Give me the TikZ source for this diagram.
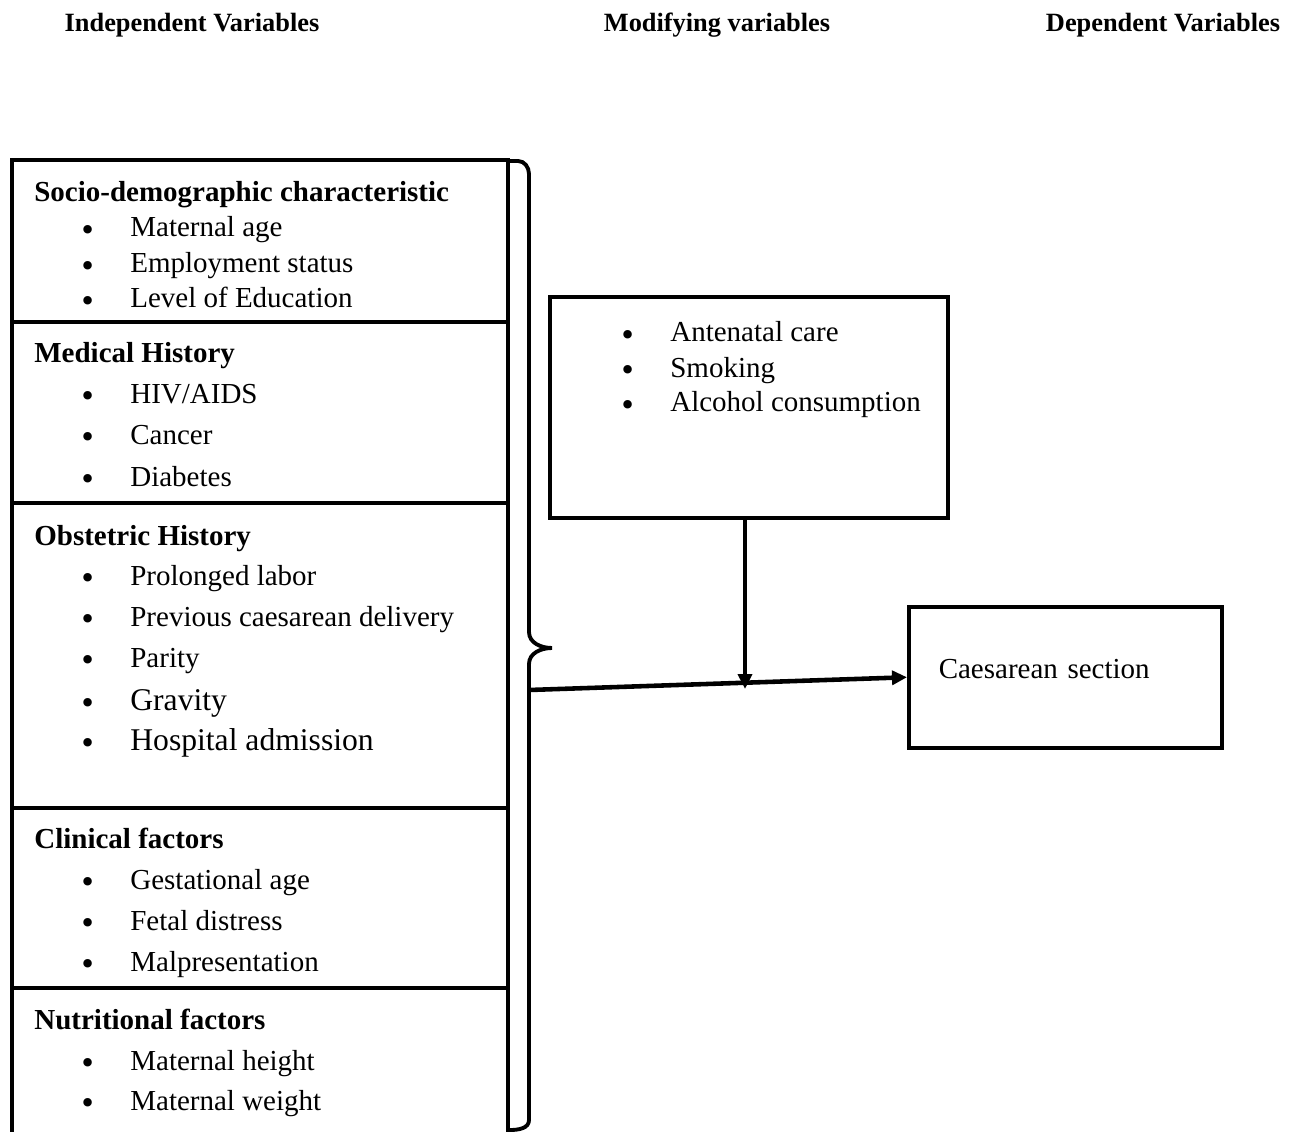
\documentclass[tikz,border=0pt]{standalone}
\usepackage{fontspec}
\setmainfont{Liberation Serif}
\newfontfamily\bulfont{DejaVu Sans}
\usetikzlibrary{arrows.meta,positioning}

% bullet hung 42px left of the item text
\newcommand{\bul}{\llap{\makebox[16.8mm]{\raisebox{-0.12em}{\bulfont\fontsize{16.5}{20}\selectfont •}}}}

\begin{document}
\begin{tikzpicture}[x=0.2mm,y=-0.2mm,
  hdr/.style={font=\fontsize{15}{18}\selectfont\bfseries,anchor=base,inner sep=0pt},
  ttl/.style={font=\fontsize{16.5}{20}\selectfont\bfseries,anchor=base west,inner sep=0pt},
  itm/.style={font=\fontsize{16.5}{20}\selectfont,anchor=base west,inner sep=0pt},
  big/.style={font=\fontsize{18}{22}\selectfont},
  secbox/.style={draw,line width=2pt,minimum width=99.2mm,inner sep=0pt,outer sep=0pt},
  arr/.style={line width=2.6pt,-{Triangle[length=3mm,width=2.8mm]}}]
\useasboundingbox (0,0) rectangle (1301,1132);

% headings
\node[hdr] (indep) at (192,32) {Independent Variables};
\node[hdr] (modif) at (717,32) {Modifying variables};
\node[hdr] (dep) at (1163,32) {Dependent Variables};

% independent variables
\node[secbox,minimum height=32.4mm,anchor=north west] (socio) at (12,160) {};
\node[secbox,minimum height=36.2mm,below=0pt of socio] (medic) {};
\node[secbox,minimum height=61mm,below=0pt of medic] (obst) {};
\node[secbox,minimum height=36mm,below=0pt of obst] (clin) {};
\node[secbox,minimum height=32mm,below=0pt of clin] (nutr) {};

\node[ttl] (socio-t) at (34,202) {Socio-demographic characteristic};
\foreach \y/\s [count=\i] in {237/Maternal age,273/Employment status,308/Level of Education}
  \node[itm] (socio-\i) at (130,\y) {\bul\s};

\node[ttl] (medic-t) at (34,363) {Medical History};
\foreach \y/\s [count=\i] in {403/{HIV/AIDS},444/Cancer,486/Diabetes}
  \node[itm] (medic-\i) at (130,\y) {\bul\s};

\node[ttl] (obst-t) at (34,545) {Obstetric History};
\foreach \y/\s/\f [count=\i] in {585/Prolonged labor/,626/Previous caesarean delivery/,
    667/Parity/,710/Gravity/big,750/Hospital admission/big}
  \node[itm,\f] (obst-\i) at (130,\y) {\bul\s};

\node[ttl] (clin-t) at (34,848) {Clinical factors};
\foreach \y/\s [count=\i] in {889/Gestational age,930/Fetal distress,971/Malpresentation}
  \node[itm] (clin-\i) at (130,\y) {\bul\s};

\node[ttl] (nutr-t) at (34,1029) {Nutritional factors};
\foreach \y/\s [count=\i] in {1070/Maternal height,1110/Maternal weight}
  \node[itm] (nutr-\i) at (130,\y) {\bul\s};

% brace
\draw[line width=2.2pt,line cap=round] (508,161) -- (518,161) to[out=0,in=90] (529,174)
  -- (529,632) to[out=-90,in=180] (552,648) to[out=180,in=90] (529,664)
  -- (529,1120) to[out=-90,in=0] (510,1130);
\coordinate (bmid) at (529,690);

% modifying variables
\node[draw,line width=2.8pt,minimum width=79.6mm,minimum height=44.2mm,inner sep=0pt,
  outer sep=0pt,anchor=north west] (modbox) at (550,297) {};
\foreach \y/\s [count=\i] in {342/Antenatal care,377/Smoking,412/Alcohol consumption}
  \node[itm] (mod-\i) at (670,\y) {\bul\s};

% dependent variable
\node[draw,line width=2pt,minimum width=62.6mm,minimum height=28.2mm,inner xsep=6mm,
  text width=50.6mm,align=left,text height=11pt,text depth=9.3pt,
  font=\fontsize{16.5}{20}\selectfont,anchor=north west] (cs) at (907,605) {Caesarean section};

\coordinate (join) at (745,689);
\draw[arr] (bmid) -- (cs.west);
\draw[arr,line width=2.2pt] (modbox.south -| join) -- (join);
\end{tikzpicture}
\end{document}
